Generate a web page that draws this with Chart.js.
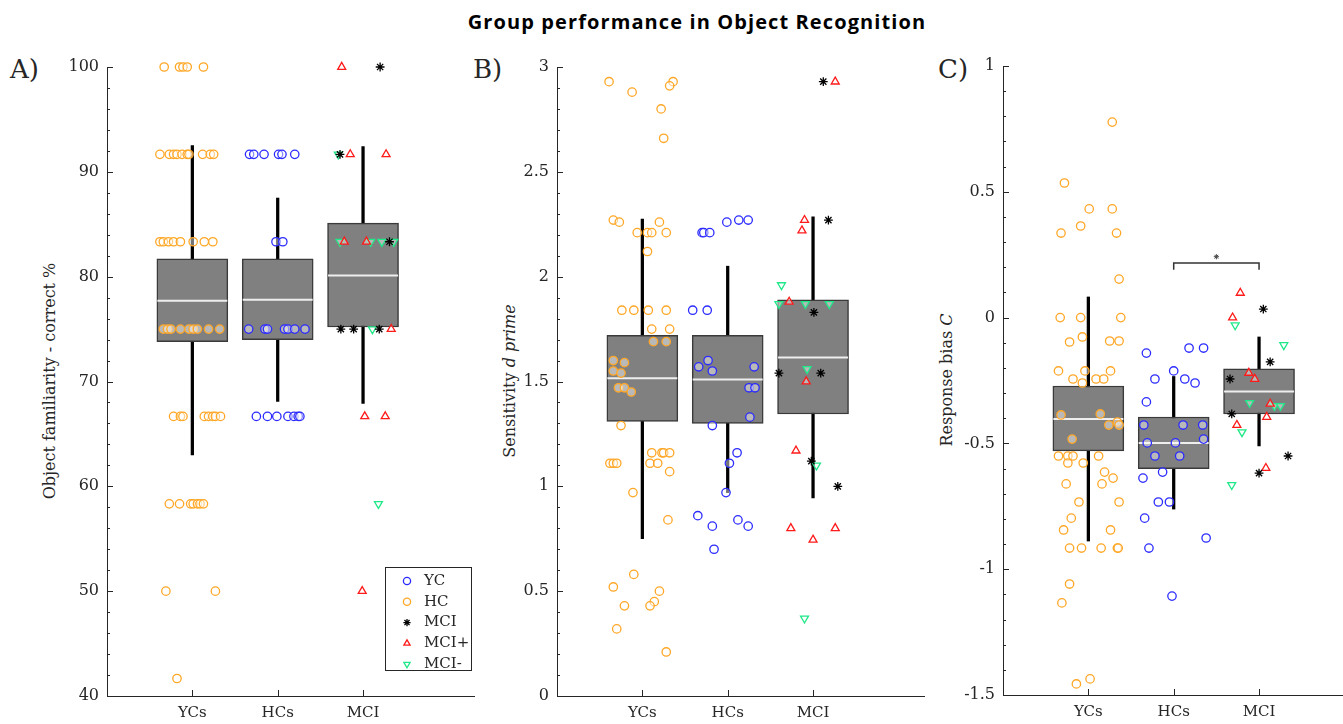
<!DOCTYPE html>
<html>
<head>
<meta charset="utf-8">
<script src="https://cdn.jsdelivr.net/npm/chart.js@4"></script>
<style>
html, body { margin:0; padding:0; background:#fff; width:1343px; height:724px; overflow:hidden; position:relative; }
canvas { position:absolute; top:0; }
.txt { position:absolute; font-family:'DejaVu Serif', serif; color:#262626; white-space:nowrap; line-height:1; }
.ylab { transform:translate(-50%,-50%) rotate(-90deg); font-size:16px; }
.panel { font-size:26px; }
#title { position:absolute; top:8px; left:0; width:1394px; text-align:center; font:bold 20px 'Open Sans', sans-serif; letter-spacing:1.1px; color:#000; }
</style>
</head>
<body>
<div id="title">Group performance in Object Recognition</div>
<div class="txt panel" style="left:10px; top:56px;">A)</div>
<div class="txt panel" style="left:473px; top:56px;">B)</div>
<div class="txt panel" style="left:938px; top:56px;">C)</div>
<div class="txt ylab" style="left:50px; top:381px;">Object familiarity - correct %</div>
<div class="txt ylab" style="left:510px; top:381px;">Sensitivity <i>d prime</i></div>
<div class="txt ylab" style="left:947px; top:380px;">Response bias <i>C</i></div>

<canvas id="chartA" width="480" height="724" style="left:0px"></canvas>
<canvas id="chartB" width="450" height="724" style="left:480px"></canvas>
<canvas id="chartC" width="443" height="724" style="left:930px"></canvas>

<script>
// categories
const groups = ['YCs', 'HCs', 'MCI'];
const groupX = [1, 2, 3];

// A) object familiarity - box stats per group
const famLo  = [63.0, 68.1, 67.9];
const famQ1  = [73.8, 74.0, 75.2];
const famMed = [77.7, 77.8, 80.1];
const famQ3  = [81.7, 81.7, 85.1];
const famHi  = [92.5, 87.5, 92.4];
// A) individual scores [x jitter, value]
const famHC = [[0.67,100],[0.85,100],[0.89,100],[0.94,100],[1.13,100],
  [0.62,91.67],[0.73,91.67],[0.78,91.67],[0.82,91.67],[0.88,91.67],[0.94,91.67],[0.96,91.67],[1.12,91.67],[1.21,91.67],[1.25,91.67],
  [0.62,83.33],[0.66,83.33],[0.72,83.33],[0.78,83.33],[0.86,83.33],[1.01,83.33],[1.14,83.33],[1.24,83.33],
  [0.66,75],[0.71,75],[0.75,75],[0.86,75],[0.96,75],[1.01,75],[1.06,75],[1.19,75],[1.32,75],
  [0.78,66.67],[0.86,66.67],[0.89,66.67],[1.14,66.67],[1.19,66.67],[1.24,66.67],[1.27,66.67],[1.33,66.67],
  [0.73,58.33],[0.85,58.33],[0.98,58.33],[1.01,58.33],[1.06,58.33],[1.09,58.33],[1.13,58.33],
  [0.69,50],[1.27,50],[0.82,41.67]];
const famYC = [[1.67,91.67],[1.72,91.67],[1.84,91.67],[2.01,91.67],[2.05,91.67],[2.20,91.67],
  [1.98,83.33],[2.06,83.33],
  [1.66,75],[1.85,75],[1.88,75],[2.08,75],[2.12,75],[2.20,75],[2.32,75],
  [1.75,66.67],[1.88,66.67],[1.99,66.67],[2.12,66.67],[2.19,66.67],[2.24,66.67],[2.26,66.67]];
const famMCI = [[3.2,100],[2.73,91.67],[3.31,83.33],[2.74,75],[2.89,75],[3.19,75]];
const famMCIplus = [[2.75,100],[2.85,91.67],[3.27,91.67],[2.78,83.33],[3.04,83.33],[3.33,75],[3.02,66.67],[3.26,66.67],[2.99,50]];
const famMCIminus = [[2.71,91.67],[2.73,83.33],[3.09,83.33],[3.22,83.33],[3.36,83.33],[3.11,75],[3.18,58.33]];

// B) sensitivity d'
const dpLo  = [0.75, 0.97, 0.945];
const dpQ1  = [1.31, 1.30, 1.345];
const dpMed = [1.515, 1.51, 1.615];
const dpQ3  = [1.72, 1.72, 1.89];
const dpHi  = [2.275, 2.05, 2.285];
const dpHC = [[0.61,2.93],[0.88,2.88],[1.36,2.93],[1.32,2.91],[1.22,2.80],[1.25,2.66],
  [0.66,2.27],[0.73,2.26],[1.20,2.26],[0.94,2.21],[1.06,2.21],[1.11,2.21],[1.28,2.21],[1.06,2.12],
  [0.76,1.84],[0.90,1.84],[1.07,1.84],[1.28,1.84],[1.11,1.75],[1.32,1.75],[1.13,1.69],[1.28,1.69],
  [0.66,1.60],[0.79,1.59],[0.66,1.55],[0.75,1.54],[0.72,1.47],[0.79,1.47],[0.87,1.45],[0.75,1.29],
  [1.11,1.16],[1.23,1.16],[1.25,1.16],[1.32,1.16],[0.62,1.11],[0.66,1.11],[0.70,1.11],[1.09,1.11],[1.18,1.11],
  [1.32,1.07],[0.89,0.97],[1.30,0.84],[0.90,0.58],[0.66,0.52],[1.20,0.50],[1.14,0.45],[1.09,0.43],[0.79,0.43],
  [0.70,0.32],[1.28,0.21]];
const dpYC = [[1.99,2.26],[2.13,2.27],[2.24,2.27],[1.70,2.21],[1.72,2.21],[1.79,2.21],[1.59,1.84],[1.76,1.84],
  [1.77,1.60],[1.66,1.57],[1.82,1.55],[2.31,1.57],[2.25,1.47],[2.32,1.47],[2.26,1.33],[1.82,1.29],
  [2.11,1.16],[2.02,1.11],[1.98,0.97],[1.65,0.86],[1.82,0.81],[2.12,0.84],[2.24,0.81],[1.84,0.70]];
const dpMCI = [[3.12,2.93],[3.18,2.27],[3.01,1.83],[2.60,1.54],[3.09,1.54],[2.98,1.12],[3.29,1.00]];
const dpMCIplus = [[3.26,2.93],[2.90,2.27],[2.87,2.22],[2.72,1.88],[2.92,1.50],[2.80,1.17],[2.74,0.80],[3.26,0.80],[3.00,0.745]];
const dpMCIminus = [[2.63,1.96],[2.60,1.87],[2.91,1.87],[3.19,1.87],[2.93,1.56],[3.04,1.10],[2.90,0.37]];

// C) response bias C
const cLo  = [-0.888, -0.761, -0.51];
const cQ1  = [-0.53, -0.60, -0.383];
const cMed = [-0.403, -0.498, -0.294];
const cQ3  = [-0.272, -0.395, -0.204];
const cHi  = [0.082, -0.234, -0.077];
const cHC = [[1.28,0.777],[0.72,0.535],[1.01,0.432],[1.28,0.432],[0.91,0.364],[0.68,0.336],[1.33,0.336],[1.36,0.153],
  [0.67,0],[0.91,0],[1.38,0],[0.78,-0.097],[0.93,-0.077],[1.25,-0.093],[1.36,-0.093],
  [0.65,-0.212],[0.96,-0.212],[1.26,-0.212],[0.82,-0.244],[0.93,-0.26],[1.09,-0.244],[1.18,-0.244],
  [0.68,-0.387],[1.14,-0.383],[1.24,-0.427],[1.34,-0.415],[1.36,-0.427],[0.81,-0.483],
  [0.65,-0.55],[0.76,-0.55],[0.82,-0.55],[1.12,-0.55],[0.76,-0.578],[0.94,-0.578],[1.19,-0.614],[1.29,-0.638],
  [0.74,-0.661],[1.16,-0.661],[0.89,-0.733],[1.36,-0.733],[0.80,-0.797],[0.71,-0.844],[1.26,-0.844],
  [0.78,-0.916],[0.92,-0.916],[1.15,-0.916],[1.34,-0.916],[1.35,-0.916],[0.78,-1.059],[0.69,-1.134],
  [0.86,-1.456],[1.02,-1.436]];
const cYC = [[1.68,-0.141],[2.18,-0.121],[2.35,-0.121],[2.0,-0.212],[1.78,-0.244],[2.13,-0.244],[2.25,-0.26],
  [1.68,-0.335],[1.65,-0.427],[2.11,-0.427],[2.34,-0.427],[1.69,-0.498],[2.02,-0.498],[2.35,-0.483],
  [1.78,-0.55],[2.07,-0.55],[1.87,-0.614],[1.64,-0.638],[1.82,-0.733],[1.95,-0.733],[1.66,-0.797],
  [2.38,-0.876],[1.71,-0.916],[1.98,-1.107]];
const cMCI = [[3.05,0.034],[3.13,-0.176],[2.66,-0.244],[2.68,-0.383],[3.34,-0.55],[3.0,-0.618]];
const cMCIplus = [[2.78,0.098],[2.69,0],[2.88,-0.22],[2.95,-0.244],[3.13,-0.343],[3.09,-0.395],[2.74,-0.427],[3.08,-0.598]];
const cMCIminus = [[2.72,-0.03],[3.29,-0.109],[2.89,-0.339],[3.18,-0.351],[3.25,-0.351],[2.80,-0.455],[2.68,-0.665]];
// significance bracket HCs vs MCI
const sigPair = [2, 3];
const sigLevel = 0.217;

const AXIS = '#262626';
const pts = arr => arr.map(([x, y]) => ({x, y}));
const fmt = v => String(+v.toFixed(2));

function boxSets(lo, hi, q1, q3, med) {
  return [
    { type: 'bar', data: groupX.map((x, i) => ({x, y: [lo[i], hi[i]]})), backgroundColor: '#000',
      barThickness: 2.6, grouped: false, order: 4 },
    { type: 'bar', data: groupX.map((x, i) => ({x, y: [q1[i], q3[i]]})), backgroundColor: '#808080',
      borderColor: '#3a3a3a', borderWidth: 1.5, borderSkipped: false, barThickness: 71, grouped: false, order: 3 },
    { type: 'scatter', data: groupX.map((x, i) => ({x, y: med[i]})), pointStyle: 'line', pointRadius: 35,
      borderColor: '#eeeeee', borderWidth: 2, order: 2 }
  ];
}

function markerSets(yc, hc, mci, plus, minus) {
  const fill = 'rgba(255,255,255,0.45)';
  const base = { borderWidth: 1.3, backgroundColor: fill, order: 0, clip: false };
  return [
    { ...base, label: 'YC', data: pts(yc), pointStyle: 'circle', pointRadius: 4.2, borderColor: '#2b2bff' },
    { ...base, label: 'HC', data: pts(hc), pointStyle: 'circle', pointRadius: 4.2, borderColor: '#ffa726' },
    { ...base, label: 'MCI', data: pts(mci), pointStyle: 'star', pointRadius: 4.4, borderColor: '#000' },
    { ...base, label: 'MCI+', data: pts(plus), pointStyle: 'triangle', pointRadius: 4.6, borderColor: '#ff1a1a' },
    { ...base, label: 'MCI-', data: pts(minus), pointStyle: 'triangle', rotation: 180, pointRadius: 4.6, borderColor: '#1fe888' }
  ];
}

// ticks pointing into the plot (major + minor on y, category ticks on x)
const inwardTicks = {
  id: 'inwardTicks',
  beforeDatasetsDraw(chart, args, o) {
    const {ctx, chartArea: a, scales: {x, y}} = chart;
    ctx.save();
    ctx.strokeStyle = AXIS;
    ctx.lineWidth = 1;
    const n = Math.round((y.max - y.min) / o.minor);
    for (let k = 0; k <= n; k++) {
      const v = y.min + k * o.minor;
      const py = Math.round(y.getPixelForValue(v)) + 0.5;
      const r = v / o.major;
      const major = Math.abs(r - Math.round(r)) < 1e-6;
      ctx.beginPath();
      ctx.moveTo(a.left, py);
      ctx.lineTo(a.left + (major ? 6 : 3), py);
      ctx.stroke();
    }
    groupX.forEach(c => {
      const px = Math.round(x.getPixelForValue(c)) + 0.5;
      ctx.beginPath();
      ctx.moveTo(px, a.bottom);
      ctx.lineTo(px, a.bottom - 6);
      ctx.stroke();
    });
    ctx.restore();
  }
};

// boxed legend inside panel A
const boxLegend = {
  id: 'boxLegend',
  afterDraw(chart, args, o) {
    if (!o.show) return;
    const ctx = chart.ctx;
    const sets = chart.data.datasets.filter(d => d.label);
    ctx.save();
    ctx.fillStyle = '#fff';
    ctx.fillRect(o.left, o.top, o.width, o.height);
    ctx.strokeStyle = AXIS;
    ctx.lineWidth = 1;
    ctx.strokeRect(o.left + 0.5, o.top + 0.5, o.width, o.height);
    ctx.font = '15px "DejaVu Serif"';
    ctx.textBaseline = 'middle';
    sets.forEach((d, i) => {
      const yy = o.top + 14 + i * 20.8;
      ctx.strokeStyle = d.borderColor;
      ctx.fillStyle = '#fff';
      ctx.lineWidth = d.borderWidth;
      Chart.helpers.drawPoint(ctx, {pointStyle: d.pointStyle, rotation: d.rotation || 0, radius: 3.6, borderWidth: d.borderWidth}, o.left + 22, yy);
      ctx.fillStyle = AXIS;
      ctx.fillText(d.label, o.left + 39, yy);
    });
    ctx.restore();
  }
};

function makePanel(id, cfg) {
  return new Chart(document.getElementById(id), {
    type: 'scatter',
    data: { datasets: cfg.datasets },
    options: {
      responsive: false,
      animation: false,
      events: [],
      layout: { autoPadding: false, padding: { top: cfg.top, right: cfg.right, bottom: 0, left: 0 } },
      plugins: {
        legend: { display: false },
        tooltip: { enabled: false },
        inwardTicks: { major: cfg.major, minor: cfg.minor },
        boxLegend: cfg.legend || { show: false }
      },
      scales: {
        x: {
          type: 'linear', min: 0, max: 4.3, offset: false,
          grid: { display: false, drawTicks: false, offset: false },
          border: { display: true, color: AXIS, width: 1 },
          afterBuildTicks: s => { s.ticks = groupX.map(v => ({value: v})); },
          ticks: { callback: v => groups[v - 1] || '', padding: 8, autoSkip: false, maxRotation: 0,
                   color: AXIS, font: { family: 'DejaVu Serif', size: 15 } },
          afterFit: s => { s.height = cfg.xh; }
        },
        y: {
          min: cfg.min, max: cfg.max,
          grid: { display: false, drawTicks: false },
          border: { display: true, color: AXIS, width: 1 },
          ticks: { stepSize: cfg.major, padding: 8, color: AXIS, callback: fmt,
                   font: { family: 'DejaVu Serif', size: 16 } },
          afterFit: s => { s.width = cfg.yw; }
        }
      }
    },
    plugins: [inwardTicks, boxLegend]
  });
}

makePanel('chartA', {
  datasets: [...markerSets(famYC, famHC, famMCI, famMCIplus, famMCIminus), ...boxSets(famLo, famHi, famQ1, famQ3, famMed)],
  min: 40, max: 100, major: 10, minor: 2, yw: 107, xh: 28, top: 67, right: 6,
  legend: { show: true, left: 385, top: 567, width: 86, height: 103 }
});

makePanel('chartB', {
  datasets: [...markerSets(dpYC, dpHC, dpMCI, dpMCIplus, dpMCIminus), ...boxSets(dpLo, dpHi, dpQ1, dpQ3, dpMed)],
  min: 0, max: 3, major: 0.5, minor: 0.1, yw: 77, xh: 28, top: 67, right: 6
});

makePanel('chartC', {
  datasets: [...markerSets(cYC, cHC, cMCI, cMCIplus, cMCIminus), ...boxSets(cLo, cHi, cQ1, cQ3, cMed),
    { type: 'line', data: [{x: sigPair[0], y: sigLevel - 0.027}, {x: sigPair[0], y: sigLevel}, {x: sigPair[1], y: sigLevel}, {x: sigPair[1], y: sigLevel - 0.027}],
      borderColor: '#333', borderWidth: 1.5, pointRadius: 0, fill: false, order: 1 },
    { type: 'scatter', data: [{x: (sigPair[0] + sigPair[1]) / 2, y: sigLevel + 0.025}], pointStyle: 'star',
      pointRadius: 2.6, borderWidth: 1, borderColor: '#444', order: 1 }],
  min: -1.5, max: 1, major: 0.5, minor: 0.1, yw: 73, xh: 29, top: 66, right: 3
});
</script>
</body>
</html>
